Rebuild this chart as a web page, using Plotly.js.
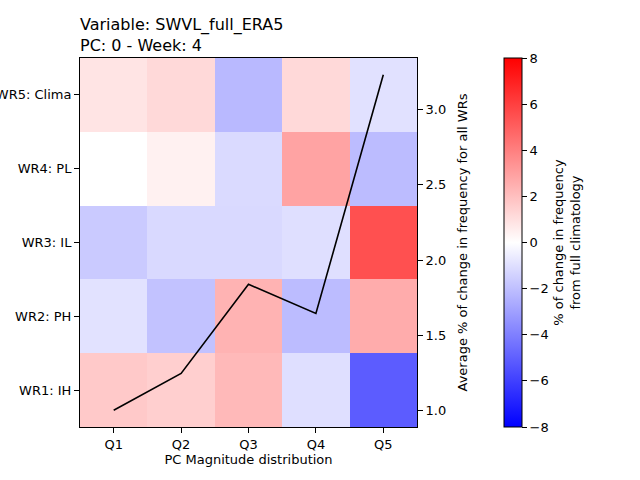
<!DOCTYPE html>
<html>
<head>
<meta charset="utf-8">
<script src="https://cdn.plot.ly/plotly-3.0.1.min.js"></script>
<style>
  html, body { margin: 0; padding: 0; background: #fff; }
  #graph { width: 640px; height: 480px; }
</style>
</head>
<body>
<div id="graph"></div>
<script>
/* ----- chart data ----- */
var quintiles = ['Q1', 'Q2', 'Q3', 'Q4', 'Q5'];
var regimes = ['WR1: IH', 'WR2: PH', 'WR3: IL', 'WR4: PL', 'WR5: Clima'];

// % change in frequency, one row per regime (bottom to top)
var wr1 = [1.7, 1.5, 2.2, -1.0, -5.1];
var wr2 = [-0.9, -1.9, 2.4, -2.1, 2.6];
var wr3 = [-1.65, -1.2, -1.2, -1.0, 5.5];
var wr4 = [0.0, 0.45, -1.15, 2.9, -2.1];
var wr5 = [0.85, 1.2, -2.2, 1.2, -0.95];

// average % of change over all regimes
var avgChange = [1.0, 1.245, 1.838, 1.644, 3.233];

var cbTicks = [-8, -6, -4, -2, 0, 2, 4, 6, 8];

var font = 'DejaVu Sans, sans-serif';

var heat = {
    type: 'heatmap',
    x: quintiles,
    y: regimes,
    z: [wr1, wr2, wr3, wr4, wr5],
    zmin: -8,
    zmax: 8,
    zsmooth: false,
    colorscale: [[0, 'rgb(0,0,255)'], [0.5, 'rgb(255,255,255)'], [1, 'rgb(255,0,0)']],
    hoverinfo: 'none',
    colorbar: {
        x: 1.258,
        xanchor: 'left',
        xpad: 0,
        y: 0,
        yanchor: 'bottom',
        ypad: 0,
        len: 1,
        thickness: 18,
        outlinewidth: 1,
        outlinecolor: '#000',
        tickvals: cbTicks,
        ticks: 'outside',
        ticklen: 5,
        tickcolor: '#000',
        tickfont: {family: font, size: 13, color: '#000'},
        title: {
            text: '% of change in frequency<br>from full climatology',
            side: 'right',
            font: {family: font, size: 13, color: '#000'}
        }
    }
};

var line = {
    type: 'scatter',
    mode: 'lines',
    x: quintiles,
    y: avgChange,
    yaxis: 'y2',
    line: {color: '#000', width: 1.6},
    hoverinfo: 'none',
    showlegend: false
};

var layout = {
    width: 640,
    height: 480,
    margin: {l: 80, r: 223, t: 58, b: 53},
    paper_bgcolor: '#fff',
    plot_bgcolor: '#fff',
    font: {family: font, size: 13, color: '#000'},
    showlegend: false,
    title: {
        text: 'Variable: SWVL_full_ERA5<br>PC: 0 - Week: 4',
        x: 80 / 640,
        xanchor: 'left',
        xref: 'container',
        y: 1 - 30 / 480,
        yanchor: 'top',
        yref: 'container',
        font: {family: font, size: 16, color: '#000'}
    },
    xaxis: {
        type: 'category',
        range: [-0.5, 4.5],
        showline: true,
        linecolor: '#000',
        linewidth: 1,
        mirror: true,
        ticks: 'outside',
        ticklen: 5,
        tickcolor: '#000',
        showgrid: false,
        zeroline: false,
        title: {text: 'PC Magnitude distribution', font: {family: font, size: 13}, standoff: 4}
    },
    yaxis: {
        type: 'category',
        range: [-0.5, 4.5],
        showline: true,
        linecolor: '#000',
        linewidth: 1,
        mirror: true,
        ticks: 'outside',
        ticklen: 5,
        tickcolor: '#000',
        showgrid: false,
        zeroline: false
    },
    yaxis2: {
        overlaying: 'y',
        side: 'right',
        range: [0.888, 3.345],
        tickvals: [1.0, 1.5, 2.0, 2.5, 3.0],
        tickformat: '.1f',
        ticks: 'outside',
        ticklen: 5,
        tickcolor: '#000',
        showgrid: false,
        zeroline: false,
        title: {text: 'Average % of change in frequency for all WRs', font: {family: font, size: 13}, standoff: 12}
    }
};

Plotly.newPlot('graph', [heat, line], layout, {staticPlot: true});
</script>
</body>
</html>
